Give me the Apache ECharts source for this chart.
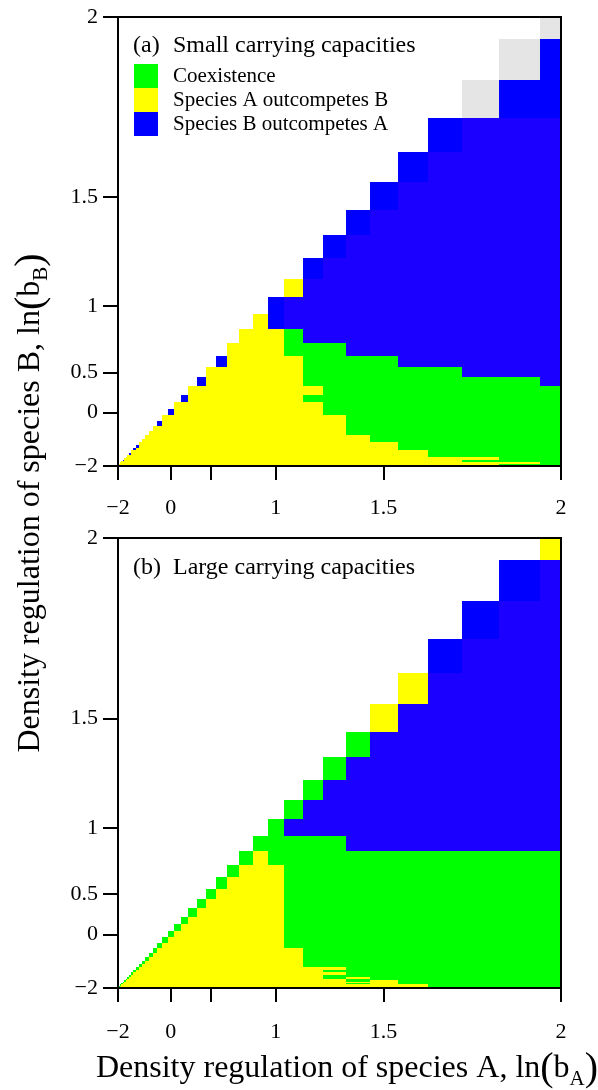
<!DOCTYPE html>
<html>
<head>
<meta charset="utf-8">
<script src="https://cdn.jsdelivr.net/npm/echarts@6/dist/echarts.min.js"></script>
<style>html,body{margin:0;padding:0;background:#fff}#c{width:598px;height:1090px}</style>
</head>
<body>
<div id="c"></div>
<script>
// Grid of ln(b) values used for both species (cells are centred on exp(lnGrid))
const lnGrid = [-2.0,-1.9,-1.8,-1.7,-1.6,-1.5,-1.4,-1.3,-1.2,-1.1,-1.0,-0.9,-0.8,-0.7,-0.6,-0.5,-0.4,-0.3,-0.2,-0.1,
  0.0,0.1,0.2,0.3,0.4,0.5,0.6,0.7,0.8,0.9,1.0,1.1,1.2,1.3,1.4,1.5,1.6,1.7,1.8,1.9,2.0];

// Outcome rows, top row first (ln bB = 2.0 down to -2.0). Each row starts at the diagonal (ln bA = ln bB)
// and is run-length coded: C = coexistence, A = species A outcompetes B, B = species B outcompetes A,
// b = species B outcompetes A (edge shade), G = unresolved (grey)
const rowsSmall = [
  "G1","G1 b1","G1 b2","b1 B3","b1 B4","b1 B5","b1 B6","b1 B7","b1 B8","A1 B9",
  "b1 B10","A1 b1 B10","A3 C1 B9","A4 C3 B7","b1 A5 C4 B5","A7 C6 B3","b1 A7 C8 B1","A10 C8","b1 A9 C9","A12 C8",
  "b1 A12 C8","A15 C7","b1 A15 C7","A17 C7","A18 C7","A20 C6","A21 C6","A23 C5","b1 A23 C5","b1 A24 C5",
  "A27 C4","b1 A27 C4","A29 C4","A32 C2","A33 C2","b1 A32 C3","A34 C3","A37 C1","A37 C2","A38 C2",
  "A39 C2"
];
const rowsLarge = [
  "A1","b1 B1","b1 B2","b1 B3","A1 B4","A1 B5","C1 B6","C1 B7","C1 B8","C1 B9",
  "C1 B10","C5 B7","C1 A1 C11","C1 A3 C10","C1 A4 C10","C1 A5 C10","C1 A6 C10","C1 A7 C10","C1 A8 C10","C1 A9 C10",
  "C1 A10 C10","C1 A11 C10","C1 A12 C10","C1 A14 C9","C1 A15 C9","C1 A16 C9","C1 A17 C9","C1 A18 C9","C1 A21 C7","C1 A21 C8",
  "C1 A23 C7","C1 A23 C8","C1 A24 C1 A1 C6","C1 A26 C7","C1 A27 C1 A1 C5","C1 A30 C5","C1 A29 C1 A1 C5","C1 A33 C4","C1 A34 C4","C1 A35 C4",
  "C1 A36 C4"
];

const xTickLn = [-2, 0, 0.5, 1, 1.5, 2];
const xLabelLn = [-2, 0, 1, 1.5, 2];
const yTickLn = [-2, 0, 0.5, 1, 1.5, 2];
const panelTags = ["(a)", "(b)"];
const panelTitles = ["Small carrying capacities", "Large carrying capacities"];
const outcomeNames = ["Coexistence", "Species A outcompetes B", "Species B outcompetes A", "Unresolved"];

const FONT = '"Liberation Serif","Times New Roman",serif';
const codeOf = {C:0, A:1, B:2, b:3, G:4};
const fills = ['#00ff00', '#ffff00', '#1c00ff', '#0000ff', '#e5e5e5'];
const groups = [
  {name: outcomeNames[0], codes:[0], color:'#00ff00'},
  {name: outcomeNames[1], codes:[1], color:'#ffff00'},
  {name: outcomeNames[2], codes:[2,3], color:'#0000ff'},
  {name: outcomeNames[3], codes:[4], color:'#e5e5e5'}
];

const bVals = lnGrid.map(Math.exp);
const N = bVals.length;
function lo(i){ return i === 0 ? bVals[0] : (bVals[i-1] + bVals[i]) / 2; }
function hi(i){ return i === N-1 ? bVals[N-1] : (bVals[i] + bVals[i+1]) / 2; }

function decode(rows){
  const cells = [];
  rows.forEach(function(row, r){
    const j = N - 1 - r;
    let i = j;
    row.trim().split(/\s+/).forEach(function(tok){
      const s = tok[0], n = parseInt(tok.slice(1), 10);
      for (let k = 0; k < n; k++){ if (i < N) cells.push([lo(i), hi(i), lo(j), hi(j), codeOf[s]]); i++; }
    });
  });
  return cells;
}

function renderCell(params, api){
  const p0 = api.coord([api.value(0), api.value(3)]);
  const p1 = api.coord([api.value(1), api.value(2)]);
  const x0 = Math.round(p0[0]), y0 = Math.round(p0[1]);
  const x1 = Math.round(p1[0]), y1 = Math.round(p1[1]);
  const f = fills[api.value(4)];
  return {type:'rect', shape:{x:x0, y:y0, width:x1-x0, height:y1-y0},
    style:{fill:f}};
}

function fmt(v){
  const l = Math.round(Math.log(v) * 10) / 10;
  return String(l).replace('-', '\u2212');
}

const grids = [
  {left:118, top:17, width:443, height:449},
  {left:118, top:538, width:443, height:450}
];

const series = [];
[rowsSmall, rowsLarge].forEach(function(rows, p){
  const cells = decode(rows);
  groups.forEach(function(g){
    series.push({
      type:'custom', name:g.name, xAxisIndex:p, yAxisIndex:p,
      renderItem: renderCell, clip:true, silent:true,
      encode:{x:[0,1], y:[2,3]},
      itemStyle:{color:g.color},
      data: cells.filter(function(c){ return g.codes.indexOf(c[4]) >= 0; })
    });
  });
});

function xAxisFor(p, margin){
  return {type:'value', gridIndex:p, min:bVals[0], max:bVals[N-1],
    axisLine:{show:true, lineStyle:{color:'#000', width:2}},
    axisTick:{show:true, customValues:xTickLn.map(Math.exp), length:14, lineStyle:{color:'#000', width:2}},
    axisLabel:{show:true, customValues:xLabelLn.map(Math.exp), formatter:fmt, margin:margin,
      fontFamily:FONT, fontSize:22, color:'#000', hideOverlap:false},
    splitLine:{show:false}};
}
function yAxisFor(p){
  return {type:'value', gridIndex:p, min:bVals[0], max:bVals[N-1],
    axisLine:{show:true, lineStyle:{color:'#000', width:2}},
    axisTick:{show:true, customValues:yTickLn.map(Math.exp), length:15, lineStyle:{color:'#000', width:2}},
    axisLabel:{show:true, customValues:yTickLn.map(Math.exp), formatter:fmt, margin:20,
      fontFamily:FONT, fontSize:22, color:'#000', hideOverlap:false},
    splitLine:{show:false}};
}

const titleRich = {
  m:{fontFamily:FONT, fontSize:32, lineHeight:42, verticalAlign:'middle', color:'#000'},
  p:{fontFamily:FONT, fontSize:40, lineHeight:42, verticalAlign:'middle', color:'#000'},
  s:{fontFamily:FONT, fontSize:21, lineHeight:21, verticalAlign:'bottom', color:'#000'}
};

const graphic = [];
grids.forEach(function(g, p){
  graphic.push({type:'rect', z:100, silent:true,
    shape:{x:g.left, y:g.top, width:g.width, height:g.height},
    style:{fill:'none', stroke:'#000', lineWidth:2}});
  const ty = g.top + (p === 0 ? 28.5 : 30);
  graphic.push({type:'text', z:100, x:133, y:ty,
    style:{text:panelTags[p], font:'24px ' + FONT, fill:'#000', verticalAlign:'middle', textVerticalAlign:'middle'}});
  graphic.push({type:'text', z:100, x:173, y:ty,
    style:{text:panelTitles[p], font:'24px ' + FONT, fill:'#000', verticalAlign:'middle', textVerticalAlign:'middle'}});
});
graphic.push({type:'text', z:100, x:347, y:1069,
  style:{text:'{m|Density regulation of species A, ln}{p|(}{m|b}{s|A}{p|)}', rich:titleRich,
    align:'center', verticalAlign:'middle', textAlign:'center', textVerticalAlign:'middle'}});
graphic.push({type:'text', z:100, x:31, y:503, rotation:Math.PI/2,
  style:{text:'{m|Density regulation of species B, ln}{p|(}{m|b}{s|B}{p|)}', rich:titleRich,
    align:'center', verticalAlign:'middle', textAlign:'center', textVerticalAlign:'middle'}});

const chart = echarts.init(document.getElementById('c'), null, {renderer:'canvas'});
chart.setOption({
  animation:false,
  backgroundColor:'#fff',
  grid: grids.map(function(g){ return Object.assign({containLabel:false, outerBoundsMode:'none'}, g); }),
  xAxis:[xAxisFor(0, 31), xAxisFor(1, 33)],
  yAxis:[yAxisFor(0), yAxisFor(1)],
  legend:{
    data: outcomeNames.slice(0,3).map(function(n){ return {name:n, icon:'rect'}; }),
    orient:'vertical', left:134, top:64, padding:0, itemWidth:24, itemHeight:24, itemGap:0,
    selectedMode:false,
    textStyle:{fontFamily:FONT, fontSize:21, color:'#000', lineHeight:24, padding:[0,0,0,10]}
  },
  graphic: graphic,
  series: series
});
</script>
</body>
</html>
